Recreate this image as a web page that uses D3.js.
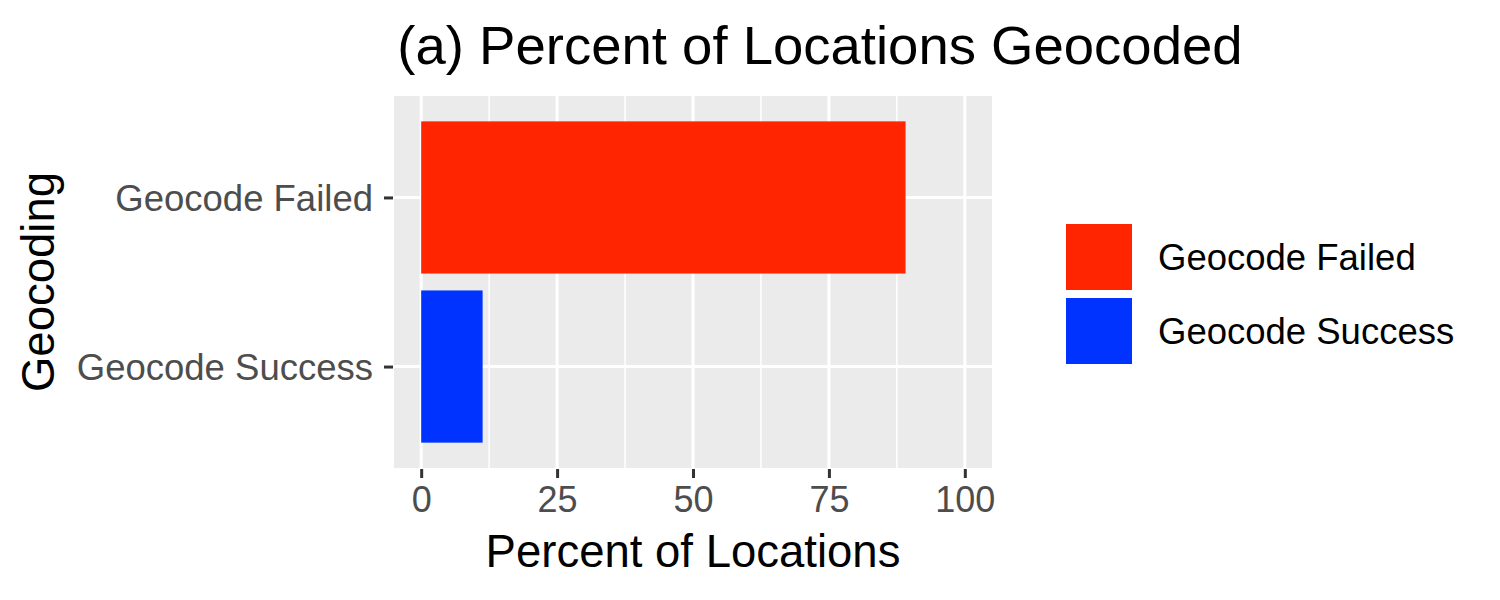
<!DOCTYPE html>
<html>
<head>
<meta charset="utf-8">
<script src="https://cdn.jsdelivr.net/npm/d3@7"></script>
<style>
  html, body { margin: 0; padding: 0; background: #ffffff; }
  svg { display: block; font-family: "Liberation Sans", Arial, Helvetica, sans-serif; }
</style>
</head>
<body>
<svg id="chart" width="1500" height="600"></svg>
<script>
// ---- data ----
const categories = ["Geocode Failed", "Geocode Success"];
const percents = [89.1, 11.3];
const barColors = ["#FF2500", "#0033FF"];
const xTicks = [0, 25, 50, 75, 100];
const xMinorTicks = [12.5, 37.5, 62.5, 87.5];
const titleText = "(a) Percent of Locations Geocoded";
const xTitle = "Percent of Locations";
const yTitle = "Geocoding";

// ---- layout ----
const W = 1500, H = 600;
const panel = { left: 394, right: 992, top: 96, bottom: 468 };

const svg = d3.select("#chart");
svg.append("rect").attr("width", W).attr("height", H).attr("fill", "#ffffff");

const x = d3.scaleLinear().domain([-5, 105]).range([panel.left, panel.right]);
const y = d3.scalePoint().domain(categories).range([panel.top, panel.bottom]).padding(0.6);
const barH = y.step() * 0.9;
const color = d3.scaleOrdinal().domain(categories).range(barColors);

// panel background
svg.append("rect")
  .attr("x", panel.left).attr("y", panel.top)
  .attr("width", panel.right - panel.left)
  .attr("height", panel.bottom - panel.top)
  .attr("fill", "#EBEBEB");

// minor grid
svg.append("g").selectAll("line").data(xMinorTicks).join("line")
  .attr("x1", d => x(d)).attr("x2", d => x(d))
  .attr("y1", panel.top).attr("y2", panel.bottom)
  .attr("stroke", "#ffffff").attr("stroke-width", 1.5);

// major grid
svg.append("g").selectAll("line").data(xTicks).join("line")
  .attr("x1", d => x(d)).attr("x2", d => x(d))
  .attr("y1", panel.top).attr("y2", panel.bottom)
  .attr("stroke", "#ffffff").attr("stroke-width", 3);
svg.append("g").selectAll("line").data(categories).join("line")
  .attr("x1", panel.left).attr("x2", panel.right)
  .attr("y1", d => y(d)).attr("y2", d => y(d))
  .attr("stroke", "#ffffff").attr("stroke-width", 3);

// bars
svg.append("g").selectAll("rect").data(categories).join("rect")
  .attr("x", x(0))
  .attr("y", d => y(d) - barH / 2)
  .attr("width", (d, i) => x(percents[i]) - x(0))
  .attr("height", barH)
  .attr("fill", d => color(d));

// x axis
const xAxis = d3.axisBottom(x).tickValues(xTicks).tickSize(9).tickPadding(8);
const gx = svg.append("g").attr("transform", `translate(0,${panel.bottom + 1})`).call(xAxis);
gx.select(".domain").remove();
gx.selectAll(".tick line").attr("stroke", "#333333").attr("stroke-width", 3);
gx.selectAll(".tick text").attr("fill", "#4D4D4D").attr("font-size", 36)
  .attr("font-family", "Liberation Sans, Arial, sans-serif").attr("dy", "0.71em");

// y axis
const yAxis = d3.axisLeft(y).tickSize(9).tickPadding(11);
const gy = svg.append("g").attr("transform", `translate(${panel.left - 1},0)`).call(yAxis);
gy.select(".domain").remove();
gy.selectAll(".tick line").attr("stroke", "#333333").attr("stroke-width", 3);
gy.selectAll(".tick text").attr("fill", "#4D4D4D").attr("font-size", 36.5)
  .attr("font-family", "Liberation Sans, Arial, sans-serif").attr("dy", "0.35em");

// titles
svg.append("text").attr("x", 820).attr("y", 64).attr("text-anchor", "middle")
  .attr("font-size", 54.5).attr("fill", "#000").text(titleText);
svg.append("text").attr("x", (panel.left + panel.right) / 2).attr("y", 567)
  .attr("text-anchor", "middle").attr("font-size", 45.5).attr("fill", "#000").text(xTitle);
svg.append("text")
  .attr("transform", `translate(54,${(panel.top + panel.bottom) / 2}) rotate(-90)`)
  .attr("text-anchor", "middle").attr("font-size", 45.5).attr("fill", "#000").text(yTitle);

// legend
const legend = svg.append("g").attr("transform", "translate(1066,224)");
const keyS = 66, keyStep = 74;
const items = legend.selectAll("g").data(categories).join("g")
  .attr("transform", (d, i) => `translate(0,${i * keyStep})`);
items.append("rect").attr("width", keyS).attr("height", keyS).attr("fill", d => color(d));
items.append("text").attr("x", 92).attr("y", keyS / 2).attr("dy", "0.35em")
  .attr("font-size", 36.5).attr("fill", "#000").text(d => d);
</script>
</body>
</html>
